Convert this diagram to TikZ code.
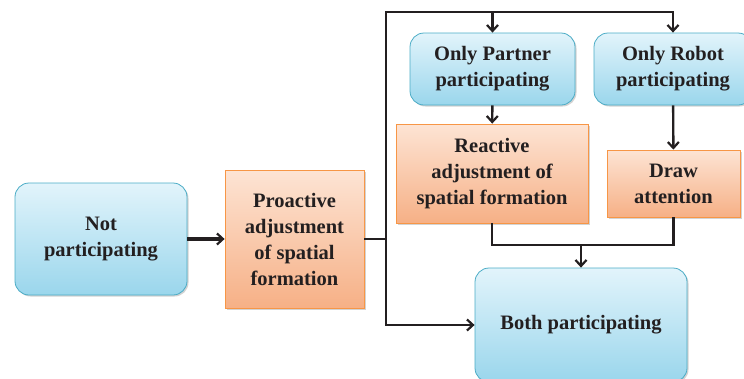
\documentclass[tikz,border=0pt]{standalone}
\usepackage{fontspec}
\setmainfont{Liberation Serif}
\usepackage{tikz}
\usetikzlibrary{positioning,shadows,arrows.meta,calc}

\definecolor{boxblue}{HTML}{9AD6EC}
\definecolor{boxbluetop}{HTML}{E2F4FB}
\definecolor{blueline}{HTML}{4BACC6}
\definecolor{boxorange}{HTML}{F6B086}
\definecolor{boxorangetop}{HTML}{FDE4D4}
\definecolor{orangeline}{HTML}{F79646}
\definecolor{ink}{HTML}{231F20}

\begin{document}
\begin{tikzpicture}[x=1pt,y=-1pt,
    bluebox/.style={draw=blueline, line width=0.8pt, rounded corners=14pt,
        top color=boxbluetop, bottom color=boxblue,
        drop shadow={shadow xshift=1.5pt, shadow yshift=-1.5pt, opacity=0.35},
        font=\bfseries\fontsize{20.5}{26}\selectfont, text=ink, align=center, inner sep=0pt},
    orangebox/.style={draw=orangeline, line width=0.8pt,
        top color=boxorangetop, bottom color=boxorange,
        drop shadow={shadow xshift=1.5pt, shadow yshift=-1.5pt, opacity=0.35},
        font=\bfseries\fontsize{20.5}{26}\selectfont, text=ink, align=center, inner sep=0pt},
    wire/.style={draw=ink, line width=2.4pt},
    flow/.style={wire, -{Straight Barb[length=6pt,width=11pt,line width=2.2pt]}}]
    \useasboundingbox (0,0) rectangle (744,378);

    % Start state
    \node[bluebox, minimum width=172, minimum height=112] (notpart) at (101,239) {Not\\participating};
    \node[orangebox, minimum width=139, minimum height=138] (proactive) at (294.5,239) {Proactive\\adjustment\\of spatial\\formation};

    % Single participation states
    \node[bluebox, minimum width=165, minimum height=72] (partner) at (492.5,69) {Only Partner\\participating};
    \node[bluebox, minimum width=158, minimum height=72] (robot) at (673,69) {Only Robot\\participating};
    \node[orangebox, minimum width=192, minimum height=99] (reactive) at (492,173.5) {Reactive\\adjustment of\\spatial formation};
    \node[orangebox, minimum width=133, minimum height=67] (attention) at (673.5,183.5) {Draw\\attention};

    % End state
    \node[bluebox, minimum width=212, minimum height=114] (both) at (581,325) {Both participating};

    % Junctions
    \coordinate (split) at (386,239);
    \coordinate (top) at (386,12);
    \coordinate (merge) at (581,245);

    % Connectors
    \draw[flow, line width=3.4pt] (notpart) -- (proactive);
    \draw[wire] (proactive) -- (split);
    \draw[flow] (split) |- (both);
    \draw[flow] (split) -- (top) -| (robot);
    \draw[flow] (partner.north |- top) -- (partner);
    \draw[flow] (partner) -- (reactive);
    \draw[flow] (robot) -- (attention);
    \draw[wire] (reactive) |- (attention.south |- merge) -- (attention);
    \draw[flow] (merge) -- (both);
\end{tikzpicture}
\end{document}
